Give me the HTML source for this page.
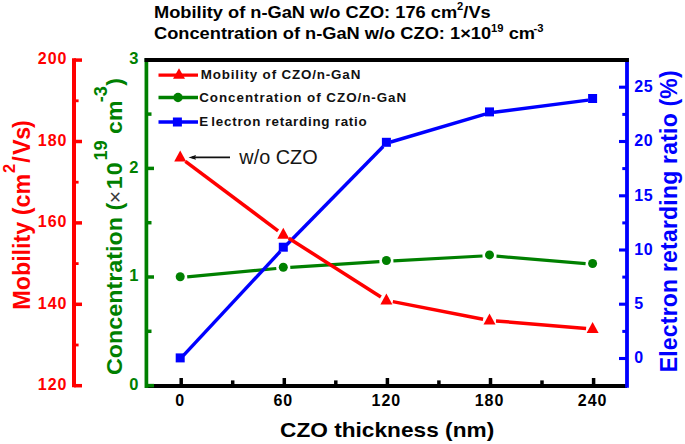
<!DOCTYPE html>
<html><head><meta charset="utf-8"><style>
html,body{margin:0;padding:0;background:#fff;}
svg{display:block;font-family:'Liberation Sans',sans-serif;}
</style></head><body>
<svg width="685" height="444" viewBox="0 0 685 444">
<rect width="685" height="444" fill="#fff"/>
<line x1="146.4" y1="386" x2="627.0" y2="386" stroke="#000000" stroke-width="4"/>
<line x1="181.2" y1="386" x2="181.2" y2="378" stroke="#000000" stroke-width="3.5"/>
<line x1="284.3" y1="386" x2="284.3" y2="378" stroke="#000000" stroke-width="3.5"/>
<line x1="387.4" y1="386" x2="387.4" y2="378" stroke="#000000" stroke-width="3.5"/>
<line x1="490.5" y1="386" x2="490.5" y2="378" stroke="#000000" stroke-width="3.5"/>
<line x1="593.6" y1="386" x2="593.6" y2="378" stroke="#000000" stroke-width="3.5"/>
<line x1="232.7" y1="386" x2="232.7" y2="380.4" stroke="#000000" stroke-width="3.5"/>
<line x1="335.8" y1="386" x2="335.8" y2="380.4" stroke="#000000" stroke-width="3.5"/>
<line x1="438.9" y1="386" x2="438.9" y2="380.4" stroke="#000000" stroke-width="3.5"/>
<line x1="542.0" y1="386" x2="542.0" y2="380.4" stroke="#000000" stroke-width="3.5"/>
<line x1="146.4" y1="58.2" x2="146.4" y2="388" stroke="#008000" stroke-width="3.7"/>
<line x1="146.4" y1="385.6" x2="154" y2="385.6" stroke="#008000" stroke-width="3.5"/>
<line x1="146.4" y1="277.0" x2="154" y2="277.0" stroke="#008000" stroke-width="3.5"/>
<line x1="146.4" y1="168.4" x2="154" y2="168.4" stroke="#008000" stroke-width="3.5"/>
<line x1="146.4" y1="59.8" x2="154" y2="59.8" stroke="#008000" stroke-width="3.5"/>
<line x1="146.4" y1="331.3" x2="151.5" y2="331.3" stroke="#008000" stroke-width="3.5"/>
<line x1="146.4" y1="222.7" x2="151.5" y2="222.7" stroke="#008000" stroke-width="3.5"/>
<line x1="146.4" y1="114.1" x2="151.5" y2="114.1" stroke="#008000" stroke-width="3.5"/>
<line x1="627.0" y1="58" x2="627.0" y2="387.7" stroke="#0000ff" stroke-width="3.8"/>
<line x1="627.0" y1="358.5" x2="619" y2="358.5" stroke="#0000ff" stroke-width="3.1"/>
<line x1="627.0" y1="304.2" x2="619" y2="304.2" stroke="#0000ff" stroke-width="3.1"/>
<line x1="627.0" y1="250.0" x2="619" y2="250.0" stroke="#0000ff" stroke-width="3.1"/>
<line x1="627.0" y1="195.8" x2="619" y2="195.8" stroke="#0000ff" stroke-width="3.1"/>
<line x1="627.0" y1="141.5" x2="619" y2="141.5" stroke="#0000ff" stroke-width="3.1"/>
<line x1="627.0" y1="87.2" x2="619" y2="87.2" stroke="#0000ff" stroke-width="3.1"/>
<line x1="627.0" y1="331.4" x2="622.3" y2="331.4" stroke="#0000ff" stroke-width="3"/>
<line x1="627.0" y1="277.1" x2="622.3" y2="277.1" stroke="#0000ff" stroke-width="3"/>
<line x1="627.0" y1="222.9" x2="622.3" y2="222.9" stroke="#0000ff" stroke-width="3"/>
<line x1="627.0" y1="168.6" x2="622.3" y2="168.6" stroke="#0000ff" stroke-width="3"/>
<line x1="627.0" y1="114.4" x2="622.3" y2="114.4" stroke="#0000ff" stroke-width="3"/>
<line x1="144.5" y1="60" x2="628.9" y2="60" stroke="#000000" stroke-width="4"/>
<line x1="74" y1="58.2" x2="74" y2="387.3" stroke="#ff0000" stroke-width="4"/>
<line x1="74" y1="60.1" x2="82" y2="60.1" stroke="#ff0000" stroke-width="3.5"/>
<line x1="74" y1="141.5" x2="82" y2="141.5" stroke="#ff0000" stroke-width="3.5"/>
<line x1="74" y1="222.9" x2="82" y2="222.9" stroke="#ff0000" stroke-width="3.5"/>
<line x1="74" y1="304.3" x2="82" y2="304.3" stroke="#ff0000" stroke-width="3.5"/>
<line x1="74" y1="385.7" x2="82" y2="385.7" stroke="#ff0000" stroke-width="3.5"/>
<line x1="74" y1="100.8" x2="78.6" y2="100.8" stroke="#ff0000" stroke-width="2.8"/>
<line x1="74" y1="182.2" x2="78.6" y2="182.2" stroke="#ff0000" stroke-width="2.8"/>
<line x1="74" y1="263.6" x2="78.6" y2="263.6" stroke="#ff0000" stroke-width="2.8"/>
<line x1="74" y1="345.0" x2="78.6" y2="345.0" stroke="#ff0000" stroke-width="2.8"/>
<line x1="187.2" y1="276.8" x2="276.3" y2="268.5" stroke="#008000" stroke-width="3.2"/>
<line x1="290.3" y1="267.4" x2="379.4" y2="261.7" stroke="#008000" stroke-width="3.2"/>
<line x1="393.4" y1="260.8" x2="482.5" y2="256.0" stroke="#008000" stroke-width="3.2"/>
<line x1="496.5" y1="256.2" x2="585.6" y2="263.6" stroke="#008000" stroke-width="3.2"/>
<line x1="183.3" y1="355.6" x2="280.2" y2="251.5" stroke="#0000ff" stroke-width="3.4"/>
<line x1="286.5" y1="245.0" x2="383.2" y2="146.5" stroke="#0000ff" stroke-width="3.4"/>
<line x1="390.7" y1="142.0" x2="485.2" y2="114.2" stroke="#0000ff" stroke-width="3.4"/>
<line x1="494.0" y1="112.3" x2="588.1" y2="100.1" stroke="#0000ff" stroke-width="3.4"/>
<line x1="185.4" y1="161.3" x2="278.1" y2="230.9" stroke="#ff0000" stroke-width="3.5"/>
<line x1="288.8" y1="238.3" x2="380.9" y2="296.9" stroke="#ff0000" stroke-width="3.5"/>
<line x1="392.8" y1="301.6" x2="483.1" y2="319.2" stroke="#ff0000" stroke-width="3.5"/>
<line x1="496.0" y1="320.9" x2="586.1" y2="328.4" stroke="#ff0000" stroke-width="3.5"/>
<circle cx="180.2" cy="276.7" r="4.5" fill="#008000"/>
<circle cx="283.3" cy="267.2" r="4.5" fill="#008000"/>
<circle cx="386.4" cy="260.5" r="4.5" fill="#008000"/>
<circle cx="489.5" cy="254.9" r="4.5" fill="#008000"/>
<circle cx="592.6" cy="263.5" r="4.5" fill="#008000"/>
<rect x="175.7" y="353.4" width="9" height="9" fill="#0000ff"/>
<rect x="278.8" y="242.7" width="9" height="9" fill="#0000ff"/>
<rect x="381.9" y="137.8" width="9" height="9" fill="#0000ff"/>
<rect x="485.0" y="107.4" width="9" height="9" fill="#0000ff"/>
<rect x="588.1" y="94.0" width="9" height="9" fill="#0000ff"/>
<polygon points="180.2,150.4 186.2,161.4 174.2,161.4" fill="#ff0000"/>
<polygon points="283.3,227.8 289.3,238.8 277.3,238.8" fill="#ff0000"/>
<polygon points="386.4,293.4 392.4,304.4 380.4,304.4" fill="#ff0000"/>
<polygon points="489.5,313.4 495.5,324.4 483.5,324.4" fill="#ff0000"/>
<polygon points="592.6,321.9 598.6,332.9 586.6,332.9" fill="#ff0000"/>
<line x1="158.5" y1="75.1" x2="198" y2="75.1" stroke="#ff0000" stroke-width="3.3"/>
<polygon points="179.0,68.3 185.0,78.8 173.0,78.8" fill="#ff0000"/>
<text x="200.8" y="79.3" font-size="13.4" font-weight="bold" fill="#111" textLength="159.5" lengthAdjust="spacing">Mobility of CZO/n-GaN</text>
<line x1="158.5" y1="97.5" x2="198" y2="97.5" stroke="#008000" stroke-width="3.3"/>
<circle cx="178.0" cy="97.5" r="4.7" fill="#008000"/>
<text x="199.2" y="101.7" font-size="13.4" font-weight="bold" fill="#111" textLength="207" lengthAdjust="spacing">Concentration of CZO/n-GaN</text>
<line x1="158.5" y1="122" x2="198" y2="122" stroke="#0000ff" stroke-width="3.3"/>
<rect x="172.9" y="117.5" width="9" height="9" fill="#0000ff"/>
<text x="199.2" y="126.2" font-size="13.4" font-weight="bold" fill="#111" textLength="167.5" lengthAdjust="spacing">E<tspan dx="2.5">lectron retarding ratio</tspan></text>
<line x1="192" y1="157.4" x2="230" y2="157.4" stroke="#111" stroke-width="1.6"/>
<polygon points="188.5,157.4 196,155 195,157.4 196,159.8" fill="#111"/>
<text x="239.3" y="163.5" font-size="19.3" fill="#151515" textLength="78.3" lengthAdjust="spacingAndGlyphs">w/o CZO</text>
<text x="180.2" y="406.3" font-size="16" font-weight="bold" text-anchor="middle" letter-spacing="1" fill="#000000">0</text>
<text x="283.3" y="406.3" font-size="16" font-weight="bold" text-anchor="middle" letter-spacing="1" fill="#000000">60</text>
<text x="386.4" y="406.3" font-size="16" font-weight="bold" text-anchor="middle" letter-spacing="1" fill="#000000">120</text>
<text x="489.5" y="406.3" font-size="16" font-weight="bold" text-anchor="middle" letter-spacing="1" fill="#000000">180</text>
<text x="592.6" y="406.3" font-size="16" font-weight="bold" text-anchor="middle" letter-spacing="1" fill="#000000">240</text>
<text x="67.5" y="64.3" font-size="16" font-weight="bold" text-anchor="end" letter-spacing="1" fill="#ff0000">200</text>
<text x="67.5" y="145.7" font-size="16" font-weight="bold" text-anchor="end" letter-spacing="1" fill="#ff0000">180</text>
<text x="67.5" y="227.1" font-size="16" font-weight="bold" text-anchor="end" letter-spacing="1" fill="#ff0000">160</text>
<text x="67.5" y="308.5" font-size="16" font-weight="bold" text-anchor="end" letter-spacing="1" fill="#ff0000">140</text>
<text x="67.5" y="389.9" font-size="16" font-weight="bold" text-anchor="end" letter-spacing="1" fill="#ff0000">120</text>
<text x="138.4" y="389.7" font-size="16.5" font-weight="bold" text-anchor="end" fill="#008000">0</text>
<text x="138.4" y="281.1" font-size="16.5" font-weight="bold" text-anchor="end" fill="#008000">1</text>
<text x="138.4" y="172.5" font-size="16.5" font-weight="bold" text-anchor="end" fill="#008000">2</text>
<text x="138.4" y="63.9" font-size="16.5" font-weight="bold" text-anchor="end" fill="#008000">3</text>
<text x="634.3" y="363.3" font-size="16" font-weight="bold" letter-spacing="0.6" fill="#0000ff">0</text>
<text x="634.3" y="309.1" font-size="16" font-weight="bold" letter-spacing="0.6" fill="#0000ff">5</text>
<text x="634.3" y="254.8" font-size="16" font-weight="bold" letter-spacing="0.6" fill="#0000ff">10</text>
<text x="634.3" y="200.6" font-size="16" font-weight="bold" letter-spacing="0.6" fill="#0000ff">15</text>
<text x="634.3" y="146.3" font-size="16" font-weight="bold" letter-spacing="0.6" fill="#0000ff">20</text>
<text x="634.3" y="92.0" font-size="16" font-weight="bold" letter-spacing="0.6" fill="#0000ff">25</text>
<g transform="translate(154,17.5) scale(1.12,1)"><text x="0" y="0" font-size="16.3" font-weight="bold" fill="#000000">Mobility of n-GaN w/o CZO: 176 cm<tspan dy="-7.5" font-size="10">2</tspan><tspan dy="7.5">/Vs</tspan></text></g>
<g transform="translate(154,39) scale(1.12,1)"><text x="0" y="0" font-size="16.3" font-weight="bold" fill="#000000">Concentration of n-GaN w/o CZO: 1×10<tspan dy="-7.5" font-size="10">19</tspan><tspan dy="7.5"> cm</tspan><tspan dy="-7.5" font-size="10" dx="-1.3">-3</tspan></text></g>
<g transform="translate(280,437.3) scale(1.164,1)"><text x="0" y="0" font-size="19.5" font-weight="bold" fill="#000000">CZO thickness (nm)</text></g>
<g transform="translate(29.6,309.8) rotate(-90) scale(1.015,1)" font-size="23" font-weight="bold" fill="#ff0000"><text x="0" y="0">Mobility (cm</text><text x="134.8" y="-14.2" font-size="16">2</text><text x="145" y="0">/</text><text x="152.5" y="0">V</text><text x="167.5" y="0">s</text><text x="179" y="0">)</text></g>
<g transform="translate(122.2,375.1) rotate(-90) scale(1.005,1)" font-size="23" font-weight="bold" fill="#008000"><text x="0" y="0" textLength="157.3" lengthAdjust="spacingAndGlyphs">Concentration</text><text x="163.9" y="0">(</text><text x="171" y="-0.5" font-size="21" font-weight="normal" fill="#3a3a3a">×</text><text x="185" y="0" letter-spacing="1.2">10</text><text x="213.5" y="-15" font-size="18">19</text><text x="240" y="0">cm</text><text x="271.5" y="-15" font-size="18">-3</text><text x="288" y="0">)</text></g>
<g transform="translate(677.3,372.3) rotate(-90)"><text x="0" y="0" font-size="23" font-weight="bold" fill="#0000ff" textLength="302" lengthAdjust="spacing">Electron retarding ratio (%)</text></g>
</svg>
</body></html>
